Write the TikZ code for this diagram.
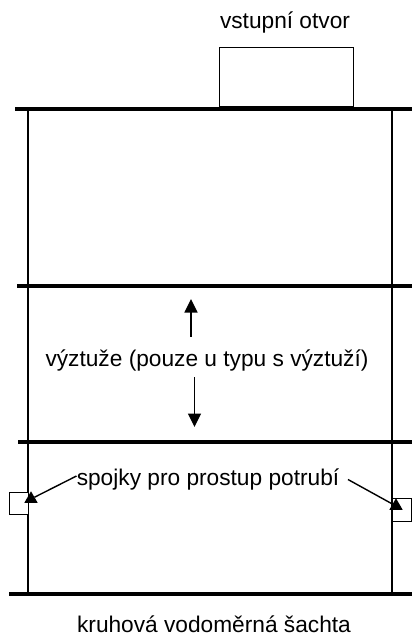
\documentclass[tikz,border=0pt]{standalone}
\usepackage{fontspec}
\setmainfont{Liberation Sans}
\usetikzlibrary{arrows.meta,shapes.geometric}

\begin{document}
\begin{tikzpicture}
  [x=1pt,y=-1pt,
   every node/.style={inner sep=0pt,outer sep=0pt,font=\fontsize{22.7}{26}\selectfont},
   skruz/.style={line width=3.2pt},
   stena/.style={line width=1.1pt},
   box/.style={draw,line width=1pt,fill=white,anchor=north west},
   kotva/.style={regular polygon,regular polygon sides=3,fill=black,minimum size=15.5pt},
   sipka/.style={line width=1.4pt,-{Triangle[length=13.5pt,width=13pt]}}]
  \useasboundingbox (0,0) rectangle (412,635);

  \coordinate (t1) at (15,109);   \coordinate (t2) at (412,109);
  \coordinate (m1) at (17,286);   \coordinate (m2) at (412,286);
  \coordinate (n1) at (18,442);   \coordinate (n2) at (412,442);
  \coordinate (b1) at (9,594);    \coordinate (b2) at (412,594);
  \coordinate (l1) at (28,109);   \coordinate (l2) at (28,594);
  \coordinate (r1) at (392,109);  \coordinate (r2) at (392,594);

  \foreach \from/\to in {l1/l2,r1/r2}
    \draw[stena] (\from) -- (\to);
  \foreach \from/\to in {t1/t2,m1/m2,n1/n2,b1/b2}
    \draw[skruz] (\from) -- (\to);

  \node[box,minimum width=134pt,minimum height=59pt] (otvor) at (219,47) {};
  \node[box,minimum width=19pt,minimum height=22pt] (spojl) at (9,492) {};
  \node[box,minimum width=19pt,minimum height=23pt] (spojr) at (392,498) {};

  \node (vstup) at (285,22) {vstupní otvor};
  \node (vyzt) at (207,360) {výztuže (pouze u typu s výztuží)};
  \node (spoj) at (208,479) {spojky pro prostup potrubí};
  \node (sachta) at (214,624.5) {kruhová vodoměrná šachta};

  \node[kotva] (kl) at (31,499) {};
  \node[kotva] (kr) at (396,506) {};

  \coordinate (a1) at (191,336.5); \coordinate (a2) at (191,299);
  \coordinate (c1) at (194.5,377); \coordinate (c2) at (194.5,427);
  \coordinate (d1) at (76.5,476);  \coordinate (e1) at (348,479.5);

  \foreach \from/\to in {a1/a2,c1/c2}
    \draw[sipka] (\from) -- (\to);
  \foreach \from/\to in {d1/kl,e1/kr}
    \draw[line width=1.4pt] (\from) -- (\to);

\end{tikzpicture}
\end{document}
